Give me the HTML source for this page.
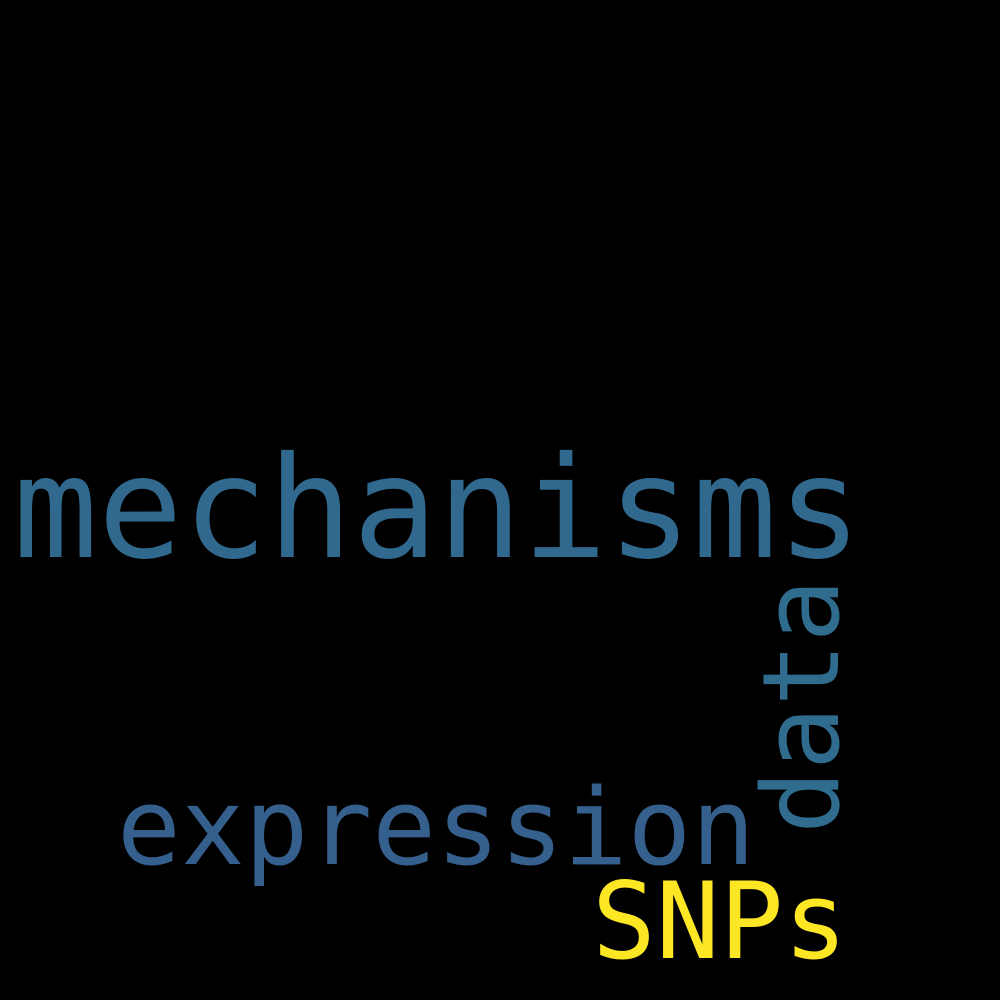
<!DOCTYPE html>
<html><head><style>html,body{margin:0;padding:0;background:#000;}svg{display:block}</style></head>
<body>
<svg width="1000" height="1000" xmlns="http://www.w3.org/2000/svg">
<rect width="1000" height="1000" fill="#000"/>
<g font-family="'DejaVu Sans Mono', 'Liberation Mono', monospace">
<text x="13" y="557" font-size="141" fill="#31688e">mechanisms</text>
<text x="117" y="864" font-size="106" fill="#355f8d">expression</text>
<text x="592" y="958" font-size="106" fill="#fde725">SNPs</text>
<text transform="translate(838,834) rotate(-90)" font-size="106" fill="#2f6c8e">data</text>
</g>
</svg>
</body></html>
